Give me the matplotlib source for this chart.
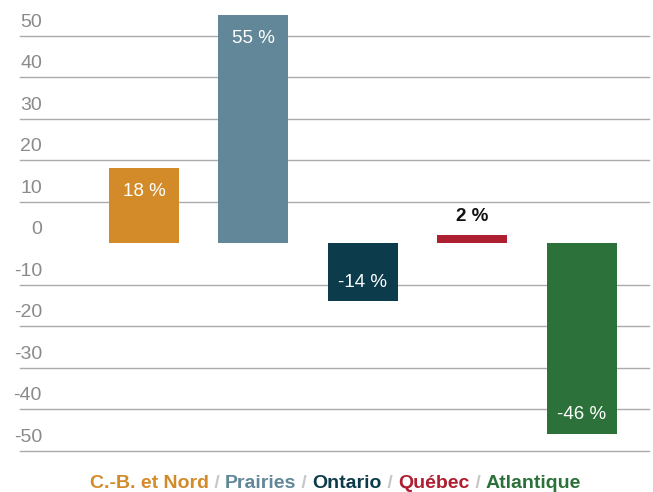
import matplotlib.pyplot as plt
from matplotlib.transforms import blended_transform_factory

plt.rcParams['font.family'] = ['Liberation Sans', 'DejaVu Sans']

regions = ['C.-B. et Nord', 'Prairies', 'Ontario', 'Québec', 'Atlantique']
values = [18, 55, -14, 2, -46]
colors = ['#D38B2A', '#628798', '#0C3B4B', '#AE1F31', '#2B7139']
yticks = [-50, -40, -30, -20, -10, 0, 10, 20, 30, 40, 50]

fig = plt.figure(figsize=(6.53, 4.92), dpi=100)
ax = fig.add_axes([20 / 653, 41.3 / 492, 629 / 653, 0.886])
ax.set_xlim(-1.132, 4.612)
ax.set_ylim(-50, 55)
ax.axis('off')

x = list(range(len(values)))
ax.bar(x, values, width=0.639, color=colors, zorder=2)

# grid lines (no line at zero), labels sit just above each line
trans = blended_transform_factory(ax.transAxes, ax.transData)
for t in yticks:
    if t != 0:
        ax.axhline(t, color='#ABABAB', lw=1.0, zorder=1, clip_on=False)
    ax.text(22 / 629, t + 1.2, str(t), transform=trans, ha='right', va='bottom',
            color='#8A8A8A', fontsize=14)

# bar labels
for xi, v in zip(x, values):
    lab = f'{v} %'
    if abs(v) < 5:
        ax.text(xi, v + 4.4, lab, ha='center', va='center', color='#111111',
                fontsize=13.5, fontweight='bold')
    elif v > 0:
        ax.text(xi, v - 5.6, lab, ha='center', va='center', color='white',
                fontsize=13.5)
    else:
        ax.text(xi, v + 4.6, lab, ha='center', va='center', color='white',
                fontsize=13.5)

# legend as coloured text with separators
pieces = []
for i, (r, c) in enumerate(zip(regions, colors)):
    if i > 0:
        pieces.append((' / ', '#C8C8C8'))
    pieces.append((r, c))

fig.canvas.draw()
renderer = fig.canvas.get_renderer()
texts = []
for s, c in pieces:
    t = fig.text(0, 4.5 / 492, s, color=c, fontsize=14, fontweight='bold',
                 va='baseline', ha='left')
    texts.append(t)
widths = [t.get_window_extent(renderer).width for t in texts]
total = sum(widths)
start = 335.5 - total / 2
for t, w in zip(texts, widths):
    t.set_x(start / 653)
    start += w

fig.savefig('out.png', dpi=100)
